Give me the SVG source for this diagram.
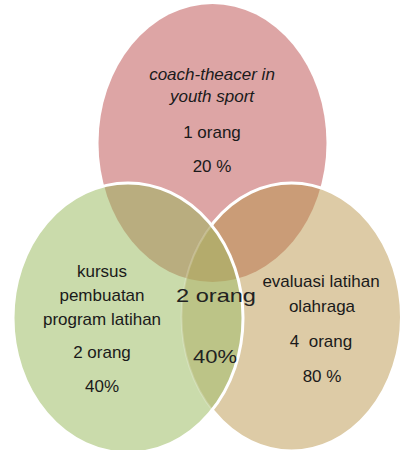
<svg xmlns="http://www.w3.org/2000/svg" width="402" height="450" viewBox="0 0 402 450">
<style>
.t{font-family:"Liberation Sans",Arial,sans-serif;font-size:17px;fill:#1a1a1a;text-anchor:middle}
.i{font-style:italic}
.c{font-family:"Liberation Sans",Arial,sans-serif;font-size:19px;fill:#222;text-anchor:middle}
.edge{fill:none;stroke:#fff;stroke-width:3}
</style>
<defs>
<clipPath id="cPink"><ellipse cx="212.5" cy="143" rx="114" ry="139"/></clipPath>
<clipPath id="cTan"><ellipse cx="291.5" cy="317" rx="110" ry="134"/></clipPath>
<clipPath id="cGreen"><ellipse cx="128" cy="318" rx="115" ry="135"/></clipPath>
<mask id="mNotGreen">
<rect x="0" y="0" width="402" height="450" fill="#fff"/>
<ellipse cx="128" cy="318" rx="115" ry="135" fill="#000"/>
</mask>
</defs>
<rect width="402" height="450" fill="#fff"/>
<g id="node-coach">
<ellipse cx="212.5" cy="143" rx="114" ry="139" fill="#DDA5A5"/>
</g>
<g id="node-evaluasi">
<ellipse cx="291.5" cy="317" rx="110" ry="134" fill="#DDCBA6"/>
</g>
<g id="node-kursus">
<ellipse cx="128" cy="318" rx="115" ry="135" fill="#CADBAB"/>
</g>
<g id="overlaps">
<g clip-path="url(#cPink)"><ellipse cx="128" cy="318" rx="115" ry="135" fill="#B9AD7F"/></g>
<g clip-path="url(#cPink)"><ellipse cx="291.5" cy="317" rx="110" ry="134" fill="#CA9C77"/></g>
<g clip-path="url(#cTan)"><ellipse cx="128" cy="318" rx="115" ry="135" fill="#BCC487"/></g>
<g clip-path="url(#cPink)"><g clip-path="url(#cTan)"><ellipse cx="128" cy="318" rx="115" ry="135" fill="#B4AB6C"/></g></g>
</g>
<g id="outlines">
<g clip-path="url(#cGreen)"><ellipse cx="291.5" cy="317" rx="110" ry="134" fill="none" stroke="#fff" stroke-width="2" opacity="0.2"/></g>
<ellipse class="edge" cx="291.5" cy="317" rx="110" ry="134" mask="url(#mNotGreen)"/>
<ellipse class="edge" cx="128" cy="318" rx="115" ry="135"/>
</g>
<g id="label-coach">
<text class="t i" x="212" y="80">coach-theacer in</text>
<text class="t i" x="212" y="102">youth sport</text>
<text class="t" x="212" y="138">1 orang</text>
<text class="t" x="212" y="172">20 %</text>
</g>
<g id="label-kursus">
<text class="t" x="102" y="277">kursus</text>
<text class="t" x="102" y="301">pembuatan</text>
<text class="t" x="102" y="325">program latihan</text>
<text class="t" x="102" y="358">2 orang</text>
<text class="t" x="102" y="392">40%</text>
</g>
<g id="label-evaluasi">
<text class="t" x="321" y="287">evaluasi latihan</text>
<text class="t" x="322" y="312">olahraga</text>
<text class="t" x="321" y="347" xml:space="preserve">4  orang</text>
<text class="t" x="322" y="382">80 %</text>
</g>
<g id="label-center">
<text class="c" x="216" y="302" textLength="80" lengthAdjust="spacingAndGlyphs">2 orang</text>
<text class="c" x="215" y="363" textLength="44" lengthAdjust="spacingAndGlyphs">40%</text>
</g>
</svg>
